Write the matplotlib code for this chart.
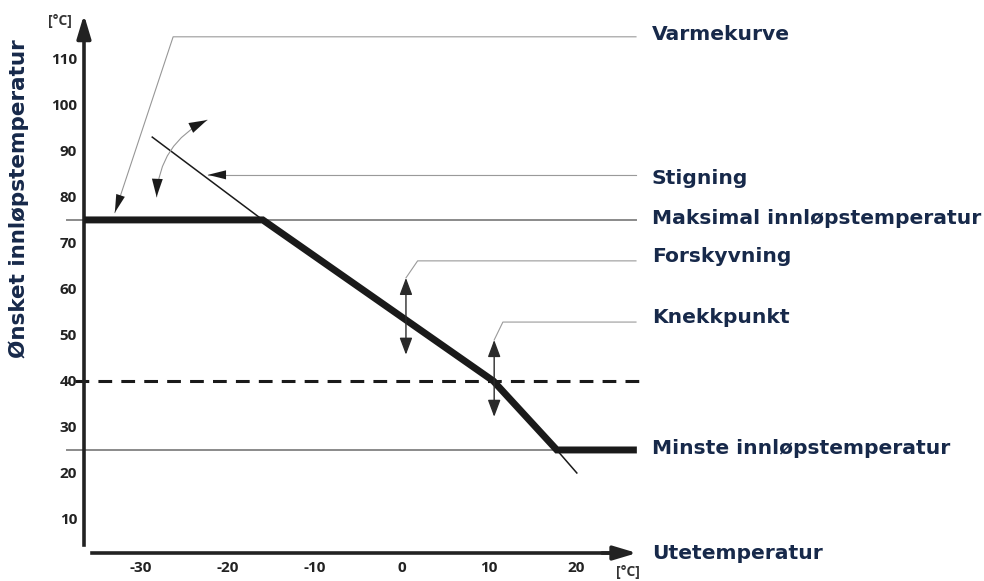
import matplotlib.pyplot as plt

# heating curve: outdoor temperature -> desired flow temperature
curve_x = [-36.5, -16, 10.5, 17.8, 27]
curve_y = [75, 75, 40, 25, 25]
slope_x = [-28.7, -16]      # thin "stigning" extension
slope_y = [93, 75]
tail_x = [17.8, 20.1]       # thin extension below minimum
tail_y = [25, 20]

max_temp = 75
min_temp = 25
knee_temp = 40

yticks = [10, 20, 30, 40, 50, 60, 70, 80, 90, 100, 110]
xticks = [-30, -20, -10, 0, 10, 20]
xtick_labels = ['-30', '-20', '-10', '0', '10', '20']

label_names = ['Varmekurve', 'Stigning', 'Maksimal innløpstemperatur', 'Forskyvning',
               'Knekkpunkt', 'Minste innløpstemperatur', 'Utetemperatur']
ylabel = 'Ønsket innløpstemperatur'

navy = '#17294a'
dark = '#1a1a1a'
grey = '#8a8a8a'

fig = plt.figure(figsize=(9.84, 5.81), dpi=100)
ax = fig.add_axes([0, 0, 1, 1])
ax.set_xlim(-46.2, 66.9)
ax.set_ylim(-3.48, 122.8)

# axes as arrows
for s in ['top', 'right']:
    ax.spines[s].set_visible(False)
ax.spines['left'].set_position(('data', -36.55))
ax.spines['left'].set_bounds(4.3, 116)
ax.spines['bottom'].set_position(('data', 2.6))
ax.spines['bottom'].set_bounds(-35.6, 25)
for s in ['left', 'bottom']:
    ax.spines[s].set_linewidth(2.6)
    ax.spines[s].set_color('#222222')
head = '-|>,head_length=1.0,head_width=0.3'
ax.annotate('', xy=(-36.55, 119.6), xytext=(-36.55, 114),
            arrowprops=dict(arrowstyle=head, mutation_scale=14, color='#222222', lw=2.6, shrinkA=0, shrinkB=0))
ax.annotate('', xy=(27.0, 2.6), xytext=(23, 2.6),
            arrowprops=dict(arrowstyle=head, mutation_scale=14, color='#222222', lw=2.6, shrinkA=0, shrinkB=0))

ax.set_yticks(yticks)
ax.set_xticks(xticks)
ax.set_xticklabels(xtick_labels)
ax.tick_params(length=0, labelsize=11, labelcolor='#222222')
ax.tick_params(axis='y', pad=5)
ax.tick_params(axis='x', pad=6)
for t in ax.get_xticklabels() + ax.get_yticklabels():
    t.set_fontweight('bold')
    t.set_family('Open Sans')

ax.text(-39.3, 118.2, '[°C]', fontsize=10, fontweight='bold', color='#333333', ha='center', va='center', family='Open Sans')
ax.text(26.0, -1.6, '[°C]', fontsize=10, fontweight='bold', color='#333333', ha='center', va='center', family='Open Sans')

# reference levels
ax.plot([-38.5, 26.9], [max_temp, max_temp], color=grey, lw=1.4, zorder=2)
ax.plot([-38.5, 17.8], [min_temp, min_temp], color=grey, lw=1.4, zorder=2)
ax.plot([-37.6, 27.4], [knee_temp, knee_temp], color=dark, lw=2.2, dashes=(4.5, 3), zorder=2)

# the curve
ax.plot(slope_x, slope_y, color=dark, lw=1.1, zorder=3)
ax.plot(tail_x, tail_y, color=dark, lw=1.1, zorder=3)
ax.plot(curve_x, curve_y, color=dark, lw=5, solid_joinstyle='miter', solid_capstyle='butt', zorder=4)


def leader(xs, ys, arrow=True):
    ax.plot(xs, ys, color='#9a9a9a', lw=0.8, zorder=2)
    if arrow:
        ax.annotate('', xy=(xs[-1], ys[-1]), xytext=(xs[-2], ys[-2]),
                    arrowprops=dict(arrowstyle='-|>,head_length=1.0,head_width=0.25', mutation_scale=13,
                                    color=dark, lw=0.01, shrinkA=0, shrinkB=0), zorder=5)


def double_arrow(x, y0, y1):
    ax.annotate('', xy=(x, y1), xytext=(x, y0),
                arrowprops=dict(arrowstyle='<|-|>,head_length=0.8,head_width=0.3', mutation_scale=13,
                                color='#2a2a2a', lw=1.0, shrinkA=0, shrinkB=0), zorder=5)


leader([26.9, -26.3, -33.0], [114.8, 114.8, 76.6])
leader([26.9, -22.3], [84.8, 84.8])
leader([26.9, 1.8, 0.46], [66.1, 66.1, 62.4], arrow=False)
leader([26.9, 11.6, 10.6], [52.8, 52.8, 48.9], arrow=False)
double_arrow(0.46, 45.7, 62.4)
double_arrow(10.6, 32.2, 48.9)

# curved arrow for the slope
ax.annotate('', xy=(-22.4, 96.7), xytext=(-28.2, 80.0),
            arrowprops=dict(arrowstyle='-', color='#9a9a9a', lw=0.8, shrinkA=0, shrinkB=0,
                            connectionstyle='arc3,rad=-0.3'))
ax.annotate('', xy=(-22.4, 96.7), xytext=(-28.2, 80.0),
            arrowprops=dict(arrowstyle='<|-|>,head_length=1.0,head_width=0.3', mutation_scale=13,
                            color=dark, lw=0.01, shrinkA=0, shrinkB=0,
                            connectionstyle='arc3,rad=-0.3'))

# right-hand labels
label_y = [115.2, 84.1, 75.4, 67.0, 53.7, 25.4, 2.6]
for name, y in zip(label_names, label_y):
    ax.text(28.7, y, name, fontsize=14.6, fontweight='bold', color=navy, ha='left', va='center',
            family='DejaVu Sans')

ax.text(-44.1, 79.6, ylabel, fontsize=15.5, fontweight='bold', color=navy, rotation=90,
        ha='center', va='center', family='DejaVu Sans')

fig.savefig('out.png', dpi=100)
